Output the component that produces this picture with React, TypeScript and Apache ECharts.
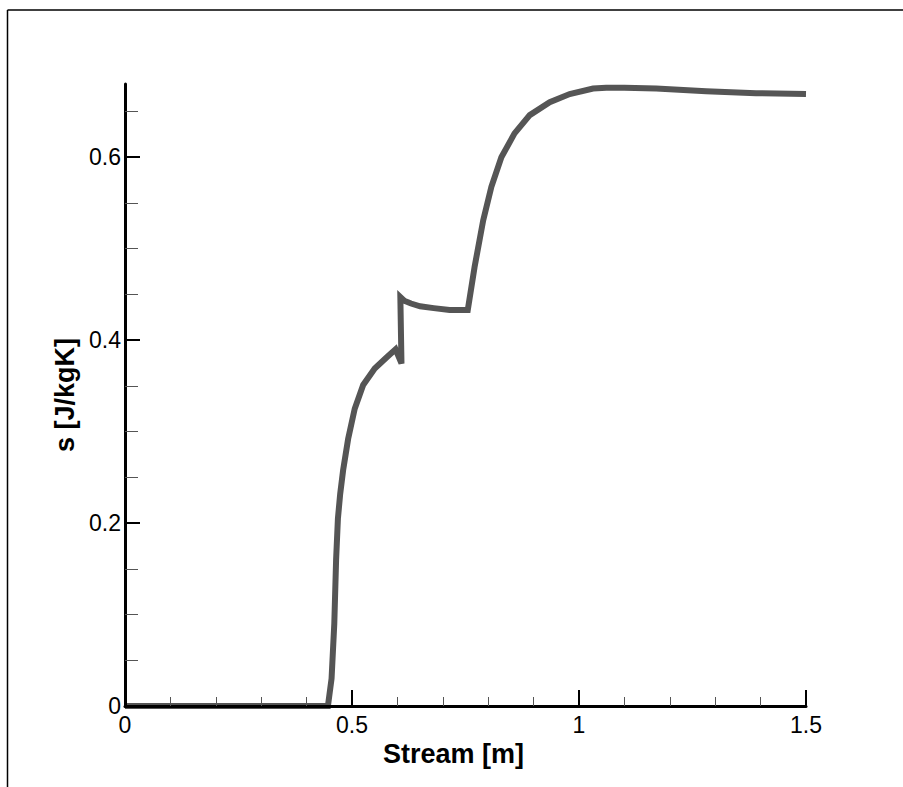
import React, { useEffect, useRef } from "react";
import * as echarts from "echarts";

// Stream position [m]
const streamX = [
  0, 0.1, 0.2, 0.3, 0.4, 0.447, 0.455, 0.461, 0.465, 0.469, 0.474, 0.4805,
  0.4915, 0.506, 0.5246, 0.55, 0.576, 0.596, 0.609, 0.6065, 0.615, 0.63, 0.65,
  0.68, 0.715, 0.755, 0.77, 0.789, 0.807, 0.829, 0.858, 0.8915, 0.9355, 0.9795,
  1.031, 1.06, 1.1, 1.17, 1.28, 1.39, 1.5,
];
// Entropy s [J/kgK]
const entropyS = [
  0, 0, 0, 0, 0, 0, 0.03, 0.09, 0.16, 0.205, 0.232, 0.258,
  0.292, 0.325, 0.351, 0.369, 0.381, 0.39, 0.3745, 0.447, 0.443, 0.44, 0.437,
  0.435, 0.433, 0.433, 0.48, 0.531, 0.5675, 0.6, 0.626, 0.646, 0.66, 0.669,
  0.675, 0.676, 0.676, 0.675, 0.672, 0.67, 0.669,
];

const yMajorTicks = [0, 0.2, 0.4, 0.6];
const yMinorTicks = [0.05, 0.1, 0.15, 0.25, 0.3, 0.35, 0.45, 0.5, 0.55, 0.65];
const yLabels = ["0", "0.2", "0.4", "0.6"];
const xLabels: Record<string, string> = { "0": "0", "0.5": "0.5", "1": "1", "1.5": "1.5" };

const FONT = "Liberation Sans, Arial, Helvetica, sans-serif";

export default function App() {
  const ref = useRef<HTMLDivElement>(null);
  useEffect(() => {
    if (!ref.current) return;
    const chart = echarts.init(ref.current, undefined, { renderer: "svg" });
    const data = streamX.map((x, i) => [x, entropyS[i]]);
    chart.setOption({
      animation: false,
      backgroundColor: "#ffffff",
      grid: { left: 125, top: 84, right: 97, bottom: 81, containLabel: false },
      graphic: [
        {
          type: "line",
          shape: { x1: 7.5, y1: 10, x2: 903, y2: 10 },
          style: { stroke: "#000", lineWidth: 1.5 },
        },
        {
          type: "line",
          shape: { x1: 7.5, y1: 10, x2: 7.5, y2: 787 },
          style: { stroke: "#000", lineWidth: 1.5 },
        },
      ],
      xAxis: {
        type: "value",
        min: 0,
        max: 1.5,
        interval: 0.5,
        z: 5,
        name: "Stream [m]",
        nameLocation: "middle",
        nameGap: 30,
        nameTextStyle: {
          fontFamily: FONT,
          fontWeight: "bold",
          fontSize: 27,
          color: "#000",
          padding: [0, 24, 0, 0],
        },
        axisLine: { show: true, lineStyle: { color: "#000", width: 3 } },
        axisTick: { show: true, inside: true, length: 16, lineStyle: { color: "#000", width: 2 } },
        minorTick: { show: true, splitNumber: 5, length: 9, lineStyle: { color: "#555", width: 1 } },
        splitLine: { show: false },
        axisLabel: {
          margin: 7,
          fontFamily: FONT,
          fontSize: 23,
          color: "#000",
          formatter: (v: number) => xLabels[String(v)] ?? String(v),
        },
      },
      yAxis: [
        {
          type: "value",
          min: 0,
          max: 0.68,
          position: "left",
          z: 5,
          name: "s [J/kgK]",
          nameLocation: "middle",
          nameGap: 47,
          nameRotate: 90,
          nameTextStyle: {
            fontFamily: FONT,
            fontWeight: "bold",
            fontSize: 27,
            color: "#000",
          },
          axisLine: { show: true, lineStyle: { color: "#000", width: 3 } },
          axisTick: {
            show: true,
            inside: true,
            length: 15,
            customValues: yMajorTicks,
            lineStyle: { color: "#000", width: 2 },
          },
          splitLine: { show: false },
          axisLabel: {
            margin: 4,
            fontFamily: FONT,
            fontSize: 23,
            color: "#000",
            customValues: yMajorTicks,
            formatter: (v: number) => {
              const i = yMajorTicks.findIndex((t) => Math.abs(t - v) < 1e-9);
              return i >= 0 ? yLabels[i] : "";
            },
          },
        },
        {
          type: "value",
          min: 0,
          max: 0.68,
          position: "left",
          offset: 0,
          z: 5,
          axisLine: { show: false },
          axisTick: {
            show: true,
            inside: true,
            length: 13,
            customValues: yMinorTicks,
            lineStyle: { color: "#555", width: 1 },
          },
          axisLabel: { show: false },
          splitLine: { show: false },
        },
      ],
      series: [
        {
          type: "line",
          data,
          yAxisIndex: 0,
          showSymbol: false,
          symbol: "none",
          smooth: false,
          z: 2,
          lineStyle: { color: "#555555", width: 6, join: "miter", cap: "butt" },
        },
      ],
    });
    return () => chart.dispose();
  }, []);
  return (
    <div
      ref={ref}
      style={{ position: "fixed", left: 0, top: 0, width: 903, height: 787, background: "#fff" }}
    />
  );
}
